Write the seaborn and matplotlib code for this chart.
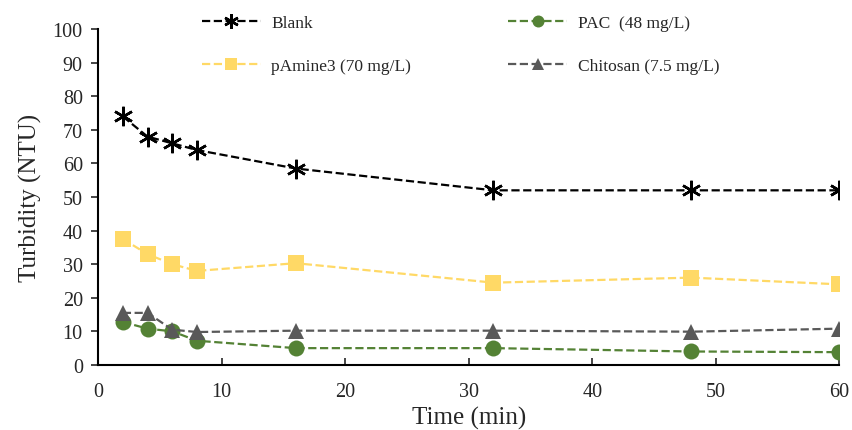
import matplotlib
matplotlib.use("Agg")
import matplotlib.pyplot as plt
import seaborn as sns

# Daten
time_min = [2, 4, 6, 8, 16, 32, 48, 60]
blank = [74, 68, 66, 64, 58.5, 52, 52, 52]
pamine3 = [37.5, 33, 30, 28, 30.3, 24.5, 26, 24]
pac = [12.8, 10.8, 10, 7.2, 5, 5, 4, 3.8]
chitosan = [15.5, 15.5, 10.5, 9.8, 10.2, 10.2, 9.9, 10.8]

labels = ["Blank", "pAmine3 (70 mg/L)", "PAC  (48 mg/L)", "Chitosan (7.5 mg/L)"]
series = [blank, pamine3, pac, chitosan]
colors = ["#000000", "#FFD966", "#548235", "#595959"]
markers = [(6, 2, 0), "s", "o", "^"]
msizes = [14, 11, 11.5, 11.5]

sns.set_style("ticks")
plt.rcParams["font.family"] = ["Liberation Serif", "DejaVu Serif"]

fig = plt.figure(figsize=(8.53, 4.31), dpi=100)
ax = fig.add_axes([0.115, 0.151, 0.869, 0.779])

for vals, lab, c, m, ms in zip(series, labels, colors, markers, msizes):
    sns.lineplot(x=time_min, y=vals, ax=ax, color=c, label=lab,
                 marker=m, markersize=ms, markeredgewidth=1.8 if m == (6, 2, 0) else 0,
                 markeredgecolor=c, markerfacecolor=c,
                 linestyle="--", dashes=(4.5, 2.5), linewidth=1.6)

ax.set_xlim(0, 60)
ax.set_ylim(0, 100)
ax.set_xticks(range(0, 61, 10))
ax.set_yticks(range(0, 101, 10))
ax.tick_params(axis="x", direction="in", labelsize=14.5, length=5, width=1.2, pad=12)
ax.tick_params(axis="y", direction="out", labelsize=14.5, length=5, width=1.2, pad=6)
for s in ["left", "bottom"]:
    ax.spines[s].set_linewidth(1.5)
    ax.spines[s].set_color("black")
sns.despine(ax=ax)

ax.set_xlabel("Time (min)", fontsize=18, labelpad=4)
ax.set_ylabel("Turbidity (NTU)", fontsize=18, labelpad=8)

handles, labs = ax.get_legend_handles_labels()
ax.get_legend().remove()
fig.legend(handles, labs, ncol=2, frameon=False, fontsize=12.5,
           loc="upper left", bbox_to_anchor=(0.218, 1.0),
           handlelength=3.4, columnspacing=5.6, labelspacing=1.55,
           handletextpad=0.6, markerscale=0.75)

fig.savefig("out.png", dpi=100)
